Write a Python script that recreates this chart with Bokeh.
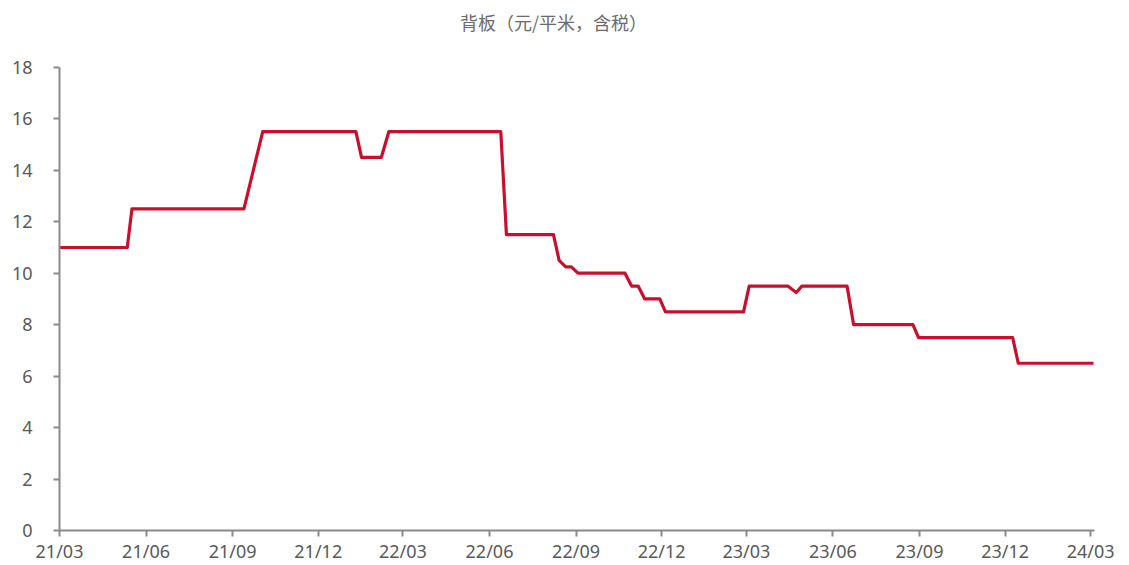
from datetime import datetime

from bokeh.embed import file_html
from bokeh.models import ColumnDataSource, FixedTicker, Label, Range1d
from bokeh.plotting import figure
from bokeh.resources import INLINE

# Backsheet price, yuan per square metre incl. tax (vertices of the price path)
dates = [
    "2021-03-01", "2021-05-12", "2021-05-17", "2021-09-13", "2021-10-03",
    "2022-01-10", "2022-01-16", "2022-02-06", "2022-02-14", "2022-06-13",
    "2022-06-19", "2022-08-08", "2022-08-14", "2022-08-21", "2022-08-27",
    "2022-09-03", "2022-10-23", "2022-10-30", "2022-11-06", "2022-11-13",
    "2022-11-29", "2022-12-05", "2023-02-26", "2023-03-04", "2023-04-14",
    "2023-04-23", "2023-04-29", "2023-06-16", "2023-06-23", "2023-08-25",
    "2023-08-31", "2023-12-09", "2023-12-15", "2024-03-04",
]
prices = [
    11.0, 11.0, 12.5, 12.5, 15.5,
    15.5, 14.5, 14.5, 15.5, 15.5,
    11.5, 11.5, 10.5, 10.25, 10.25,
    10.0, 10.0, 9.5, 9.5, 9.0,
    9.0, 8.5, 8.5, 9.5, 9.5,
    9.25, 9.5, 9.5, 8.0, 8.0,
    7.5, 7.5, 6.5, 6.5,
]
x_tick_labels = [
    "21/03", "21/06", "21/09", "21/12", "22/03", "22/06", "22/09",
    "22/12", "23/03", "23/06", "23/09", "23/12", "24/03",
]
y_ticks = [0, 2, 4, 6, 8, 10, 12, 14, 16, 18]

title_text = "背板（元/平米，含税）"

EPOCH = datetime(1970, 1, 1)


def to_ms(dt):
    return (dt - EPOCH).total_seconds() * 1000.0


x_vals = [datetime.strptime(d, "%Y-%m-%d") for d in dates]
source = ColumnDataSource(data=dict(x=x_vals, y=prices))


def tick_ms(label):
    yy, mm = label.split("/")
    return to_ms(datetime(2000 + int(yy), int(mm), 1))


tick_pos = [tick_ms(t) for t in x_tick_labels]

AXIS_GREY = "#8a8a8a"
TEXT_GREY = "#595959"

# value axis runs 0-18; the extra headroom above it carries the heading
p = figure(
    width=1129,
    height=565,
    x_axis_type="datetime",
    x_range=Range1d(datetime(2021, 3, 1), datetime(2024, 3, 5)),
    y_range=Range1d(0, 20.6),
    output_backend="svg",
    toolbar_location=None,
    min_border_left=59,
    min_border_right=35,
    min_border_top=0,
    min_border_bottom=33,
)
p.outline_line_color = None
p.background_fill_color = "white"
p.border_fill_color = "white"

p.xgrid.visible = False
p.ygrid.visible = False

p.line("x", "y", source=source, line_color="#C8102E", line_width=3.2,
       line_join="round")

heading = Label(
    x=to_ms(datetime(2022, 8, 8)), y=19.76, text=title_text,
    text_align="center", text_baseline="middle",
    text_font="Noto Sans CJK SC", text_font_size="18px",
    text_color="#6b6b6b",
)
p.add_layout(heading)

# x axis
xa = p.xaxis[0]
xa.ticker = FixedTicker(ticks=tick_pos)
xa.major_label_overrides = {pos: lab for pos, lab in zip(tick_pos, x_tick_labels)}
xa.axis_line_color = AXIS_GREY
xa.axis_line_width = 2
xa.major_tick_line_color = AXIS_GREY
xa.major_tick_line_width = 2
xa.major_tick_in = 0
xa.major_tick_out = 6
xa.minor_tick_line_color = None
xa.major_label_standoff = 2
xa.major_label_text_font = "Noto Sans"
xa.major_label_text_font_size = "18px"
xa.major_label_text_color = TEXT_GREY

# y axis
ya = p.yaxis[0]
ya.bounds = (0, 18)
ya.ticker = FixedTicker(ticks=y_ticks)
ya.axis_line_color = AXIS_GREY
ya.axis_line_width = 2
ya.major_tick_line_color = AXIS_GREY
ya.major_tick_line_width = 2
ya.major_tick_in = 0
ya.major_tick_out = 6
ya.minor_tick_line_color = None
ya.major_label_standoff = 21
ya.major_label_text_font = "Noto Sans"
ya.major_label_text_font_size = "18px"
ya.major_label_text_color = TEXT_GREY

open("out.html", "w").write(file_html(p, INLINE))
